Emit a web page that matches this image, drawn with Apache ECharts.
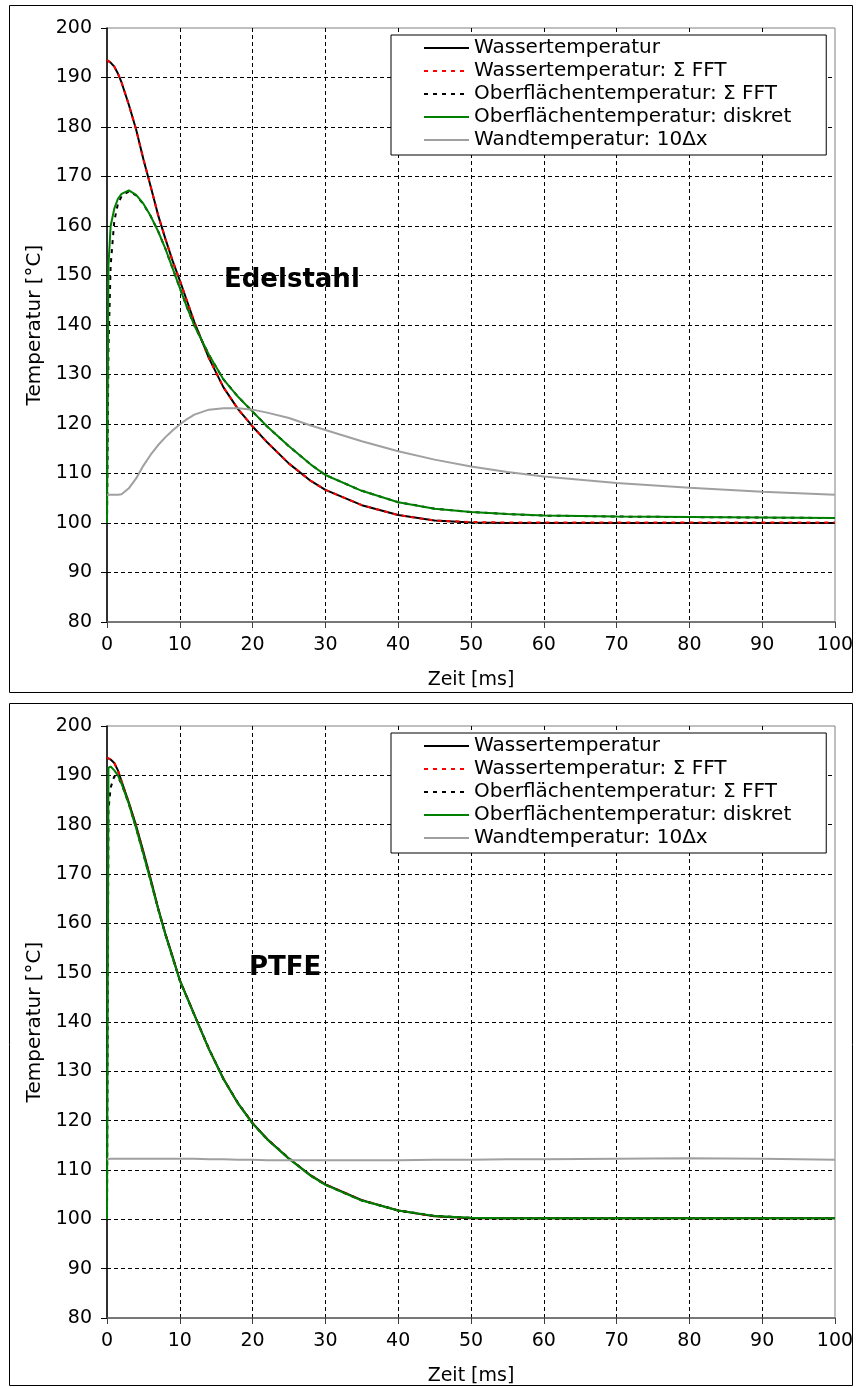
<!DOCTYPE html>
<html>
<head>
<meta charset="utf-8">
<script src="https://cdn.jsdelivr.net/npm/echarts@6/dist/echarts.min.js"></script>
<style>
html,body{margin:0;padding:0;background:#fff;}
#chart{width:857px;height:1387px;}
</style>
</head>
<body>
<div id="chart"></div>
<script>
// ---- data ----
const seriesNames = ['Wassertemperatur', 'Wassertemperatur: Σ FFT', 'Oberflächentemperatur: Σ FFT', 'Oberflächentemperatur: diskret', 'Wandtemperatur: 10Δx'];
const panelTitles = ['Edelstahl', 'PTFE'];
const xTicks = [0, 10, 20, 30, 40, 50, 60, 70, 80, 90, 100];
const yTicks = [80, 90, 100, 110, 120, 130, 140, 150, 160, 170, 180, 190, 200];

const time = [0, 0.2, 0.5, 1, 1.5, 2, 3, 4, 5, 6, 7, 8, 9, 10, 11, 12, 14, 16, 18, 20, 22, 25, 28, 30, 35, 40, 45, 50, 55, 60, 70, 80, 90, 100];

// Edelstahl (top panel)
const edelWasser    = [193.5, 193.4, 193.0, 192.2, 190.8, 189.0, 184.5, 179.5, 173.5, 168.0, 162.3, 157.5, 153.0, 149.0, 144.8, 140.6, 133.3, 127.4, 123.0, 119.5, 116.3, 112.0, 108.5, 106.7, 103.6, 101.6, 100.5, 100.1, 100.0, 100.0, 100.0, 100.0, 100.0, 100.0];
const edelWasserFFT = [193.5, 193.4, 193.0, 192.2, 190.8, 189.0, 184.5, 179.5, 173.5, 168.0, 162.3, 157.5, 153.0, 149.0, 144.8, 140.6, 133.3, 127.4, 123.0, 119.5, 116.3, 112.0, 108.5, 106.7, 103.6, 101.6, 100.5, 100.2, 100.1, 100.1, 100.1, 100.1, 100.1, 100.1];
const edelOberFFT   = [100.0, 135.0, 152.0, 161.0, 164.5, 166.0, 167.0, 166.2, 164.4, 162.0, 159.0, 155.5, 151.5, 147.5, 143.5, 139.9, 134.0, 129.0, 125.5, 122.5, 119.5, 115.5, 111.8, 109.7, 106.5, 104.2, 102.9, 102.2, 101.8, 101.5, 101.3, 101.2, 101.1, 101.0];
const edelOberDisk  = [100.0, 152.0, 160.0, 163.5, 165.5, 166.5, 167.2, 166.3, 164.5, 162.0, 159.0, 155.5, 151.5, 147.5, 143.5, 139.9, 134.0, 129.0, 125.5, 122.5, 119.5, 115.5, 111.8, 109.7, 106.5, 104.2, 102.9, 102.2, 101.8, 101.5, 101.3, 101.2, 101.1, 101.0];
const edelWand      = [105.7, 105.7, 105.7, 105.7, 105.7, 105.8, 107.0, 109.0, 111.6, 113.8, 115.7, 117.3, 118.7, 119.9, 121.0, 121.9, 122.9, 123.2, 123.2, 122.9, 122.3, 121.2, 119.7, 118.8, 116.5, 114.5, 112.8, 111.4, 110.3, 109.4, 108.1, 107.1, 106.3, 105.7];

// PTFE (bottom panel)
const ptfeWasser    = [193.6, 193.5, 193.2, 192.5, 191.0, 188.8, 184.5, 179.8, 174.5, 169.0, 163.2, 158.0, 153.3, 148.5, 145.0, 141.5, 134.5, 128.5, 123.5, 119.5, 116.3, 112.3, 108.9, 107.1, 103.9, 101.8, 100.6, 100.2, 100.2, 100.2, 100.2, 100.2, 100.2, 100.2];
const ptfeWasserFFT = [193.6, 193.5, 193.2, 192.5, 191.0, 188.8, 184.5, 179.8, 174.5, 169.0, 163.2, 158.0, 153.3, 148.5, 145.0, 141.5, 134.5, 128.5, 123.5, 119.5, 116.3, 112.3, 108.9, 107.1, 103.9, 101.8, 100.6, 100.2, 100.2, 100.2, 100.2, 100.2, 100.2, 100.2];
const ptfeOberFFT   = [100.0, 183.0, 187.5, 189.8, 189.6, 188.3, 184.2, 179.3, 174.0, 168.6, 163.0, 157.8, 153.1, 148.4, 144.9, 141.4, 134.6, 128.4, 123.6, 119.4, 116.2, 112.4, 108.8, 107.0, 103.8, 101.8, 100.7, 100.3, 100.2, 100.2, 100.2, 100.2, 100.2, 100.2];
const ptfeOberDisk  = [100.0, 191.5, 191.8, 191.0, 190.0, 188.3, 184.2, 179.3, 174.0, 168.6, 163.0, 157.8, 153.1, 148.4, 144.9, 141.4, 134.5, 128.4, 123.5, 119.4, 116.2, 112.3, 108.8, 107.0, 103.8, 101.8, 100.7, 100.3, 100.2, 100.2, 100.2, 100.2, 100.2, 100.2];
const ptfeWand      = [112.2, 112.3, 112.3, 112.3, 112.3, 112.3, 112.3, 112.3, 112.3, 112.3, 112.3, 112.3, 112.3, 112.3, 112.3, 112.3, 112.2, 112.2, 112.1, 112.1, 112.0, 112.0, 112.0, 112.0, 112.0, 112.0, 112.1, 112.1, 112.2, 112.2, 112.3, 112.4, 112.3, 112.1];

// ---- chart ----
const FONT = 'DejaVu Sans';
const panels = [
  [edelWasser, edelWasserFFT, edelOberFFT, edelOberDisk, edelWand],
  [ptfeWasser, ptfeWasserFFT, ptfeOberFFT, ptfeOberDisk, ptfeWand]
];
const styles = [
  {color: '#000000', width: 2, type: 'solid'},
  {color: '#ff0000', width: 2, type: [4, 5]},
  {color: '#000000', width: 2, type: [4, 5]},
  {color: '#008000', width: 2, type: 'solid'},
  {color: '#a0a0a0', width: 2, type: 'solid'}
];
const gridTops = [28, 726];
const legendTops = [35, 733];

const grids = gridTops.map(t => ({left: 107, top: t, width: 728, height: 594, show: true, borderColor: '#808080', borderWidth: 1, backgroundColor: 'transparent'}));

const xAxes = gridTops.map((t, i) => ({
  type: 'value', gridIndex: i, min: xTicks[0], max: xTicks[xTicks.length - 1], interval: 10,
  name: 'Zeit [ms]', nameLocation: 'middle', nameGap: 49,
  nameTextStyle: {fontFamily: FONT, fontSize: 19, color: '#000'},
  axisLine: {show: true, onZero: false, lineStyle: {color: '#606060', width: 1.5}},
  axisTick: {show: true, length: 6, lineStyle: {color: '#404040'}},
  axisLabel: {margin: 14, fontFamily: FONT, fontSize: 19, color: '#000'},
  splitLine: {show: true, showMinLine: false, showMaxLine: false, lineStyle: {color: '#000', type: [4, 3], width: 1}}
}));
const yAxes = gridTops.map((t, i) => ({
  type: 'value', gridIndex: i, min: yTicks[0], max: yTicks[yTicks.length - 1], interval: 10,
  name: 'Temperatur [°C]', nameLocation: 'middle', nameGap: 60, nameRotate: 90,
  nameTextStyle: {fontFamily: FONT, fontSize: 20, color: '#000'},
  axisLine: {show: true, onZero: false, lineStyle: {color: '#000', width: 1.5}},
  axisTick: {show: true, length: 6, lineStyle: {color: '#000'}},
  axisLabel: {margin: 15, fontFamily: FONT, fontSize: 19, color: '#000'},
  splitLine: {show: true, showMinLine: false, showMaxLine: false, lineStyle: {color: '#000', type: [4, 3], width: 1}}
}));

const series = [];
panels.forEach((arrs, p) => {
  arrs.forEach((vals, k) => {
    series.push({
      type: 'line', name: seriesNames[k], xAxisIndex: p, yAxisIndex: p,
      data: time.map((t, i) => [t, vals[i]]),
      symbol: 'none', showSymbol: false, smooth: false,
      lineStyle: {color: styles[k].color, width: styles[k].width, type: styles[k].type},
      itemStyle: {color: styles[k].color},
      z: 2 + k, animation: false
    });
  });
});

const legends = legendTops.map((t, i) => ({
  orient: 'vertical', left: 391, top: t, data: seriesNames,
  itemWidth: 45, itemHeight: 8, itemGap: 3,
  padding: [3, 35, 5, 32],
  borderColor: '#000', borderWidth: 1, backgroundColor: '#fff',
  itemStyle: {opacity: 0},
  lineStyle: {width: 2},
  textStyle: {fontFamily: FONT, fontSize: 20, color: '#000'},
  selectedMode: false
}));

const option = {
  animation: false,
  backgroundColor: '#fff',
  grid: grids, xAxis: xAxes, yAxis: yAxes, legend: legends, series: series,
  graphic: [
    {type: 'rect', shape: {x: 9.5, y: 5.5, width: 843, height: 687}, style: {fill: 'none', stroke: '#000', lineWidth: 1}, silent: true},
    {type: 'rect', shape: {x: 9.5, y: 703.5, width: 843, height: 682}, style: {fill: 'none', stroke: '#000', lineWidth: 1}, silent: true},
    {type: 'text', left: 224, top: 267, z: 100, style: {text: panelTitles[0], font: 'bold 26px "DejaVu Sans"', fill: '#000'}},
    {type: 'text', left: 249, top: 955, z: 100, style: {text: panelTitles[1], font: 'bold 26px "DejaVu Sans"', fill: '#000'}}
  ]
};
const chart = echarts.init(document.getElementById('chart'), null, {renderer: 'canvas'});
chart.setOption(option);
</script>
</body>
</html>
